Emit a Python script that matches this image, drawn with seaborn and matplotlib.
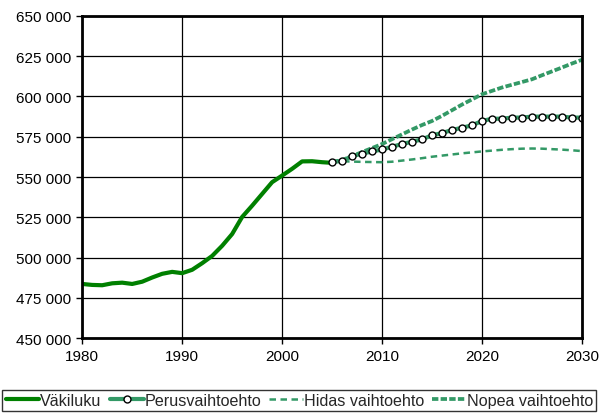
import numpy as np
import pandas as pd
import matplotlib.pyplot as plt
import seaborn as sns
from matplotlib.ticker import FuncFormatter

# Population history and projections
years_hist = list(range(1980, 2006))
vakiluku = [483600, 483000, 482800, 484000, 484400, 483600, 485000, 487600, 489900, 491100,
            490300, 492400, 496500, 501000, 507300, 514600, 525200, 532200, 539500, 546800,
            550900, 555100, 559700, 559800, 559200, 558800]

years_proj = list(range(2005, 2031))
perus = [559300, 560000, 563000, 564500, 565900, 567100, 568800, 570500, 571900, 573400,
         575900, 577300, 579200, 580600, 582100, 584800, 586200, 586200, 586900, 586900,
         587500, 587500, 587500, 587500, 586900, 586900]
hidas = [559300, 559800, 559600, 559400, 559300, 559200, 559500, 560200, 560900, 561700,
         562600, 563300, 564000, 564700, 565300, 565900, 566400, 566900, 567300, 567600,
         567700, 567600, 567300, 567000, 566600, 566100]
nopea = [559300, 560500, 563000, 565500, 568000, 570500, 573500, 576500, 579500, 582300,
         584800, 588000, 591500, 595000, 598200, 601400, 603500, 605600, 607300, 609000,
         610700, 613200, 615600, 618000, 620500, 622800]

df_hist = pd.DataFrame({"year": years_hist, "value": vakiluku})
df_proj = pd.DataFrame({"year": years_proj, "perus": perus, "hidas": hidas, "nopea": nopea})

sns.set_style("white")
plt.rcParams["font.family"] = ["Liberation Sans", "DejaVu Sans"]

fig = plt.figure(figsize=(6, 4.14), dpi=100, facecolor="white")
ax = fig.add_axes([0.137, 0.181, 0.833, 0.778])

green = "#008000"
sea = "#339966"

sns.lineplot(data=df_proj, x="year", y="hidas", color=sea, lw=1.8, ax=ax,
             label="Hidas vaihtoehto", linestyle=(0, (2.6, 1.8)))
sns.lineplot(data=df_proj, x="year", y="nopea", color=sea, lw=2.7, ax=ax,
             label="Nopea vaihtoehto", linestyle=(0, (1.7, 0.6)))
sns.lineplot(data=df_hist, x="year", y="value", color=green, lw=3, ax=ax,
             label="Väkiluku")
sns.lineplot(data=df_proj, x="year", y="perus", color=sea, lw=3, ax=ax,
             marker="o", markersize=5, markerfacecolor="white", markeredgecolor="black",
             markeredgewidth=1, label="Perusvaihtoehto")

ax.set_xlim(1980, 2030)
ax.set_ylim(450000, 650000)
ax.set_xticks(range(1980, 2031, 10))
ax.set_yticks(range(450000, 650001, 25000))
ax.yaxis.set_major_formatter(FuncFormatter(lambda v, p: f"{int(v):,}".replace(",", " ")))
ax.set_xlabel("")
ax.set_ylabel("")
ax.grid(True, color="black", lw=0.9)
ax.set_axisbelow(True)
for s in ax.spines.values():
    s.set_visible(True)
    s.set_color("black")
    s.set_linewidth(2)
ax.tick_params(direction="out", length=4, width=1, colors="black", labelsize=11,
               left=True, bottom=True, pad=4)

# legend in Excel-like order, below the plot
handles, labels = ax.get_legend_handles_labels()
order = ["Väkiluku", "Perusvaihtoehto", "Hidas vaihtoehto", "Nopea vaihtoehto"]
hmap = dict(zip(labels, handles))
ax.legend_.remove()
leg = fig.legend([hmap[k] for k in order], order, loc="lower left", ncol=4,
                 bbox_to_anchor=(0.004, 0.004), frameon=True, fancybox=False,
                 edgecolor="black", fontsize=11.6, handlelength=2.1, handletextpad=0.05,
                 columnspacing=0.5, borderpad=0.2, borderaxespad=0, numpoints=1)
leg.get_frame().set_linewidth(1)

plt.savefig("out.png", dpi=100)
